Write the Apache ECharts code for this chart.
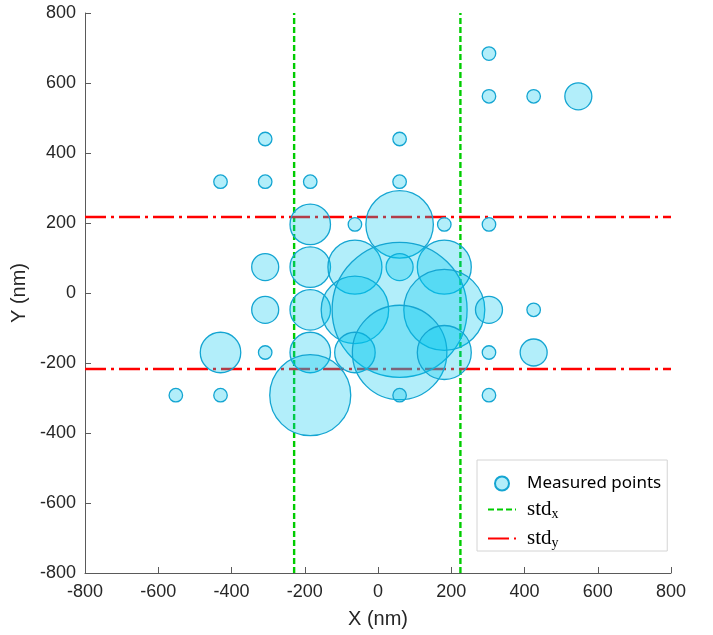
<!DOCTYPE html>
<html>
<head>
<meta charset="utf-8">
<script src="https://cdn.jsdelivr.net/npm/echarts@6/dist/echarts.min.js"></script>
<style>
html,body{margin:0;padding:0;background:#fff;}
#chart{width:713px;height:635px;}
</style>
</head>
<body>
<div id="chart"></div>
<script>
// Measured points: x (nm), y (nm), count (marker radius grows with count)
const pointX = [303, 303, 425, 547, -308, 59, -430, -308, -185, 59,
  -185, -63, 59, 181, 303,
  -308, -185, -63, 59, 181,
  -308, -185, -63, 59, 181, 303, 425,
  -430, -308, -185, -63, 59, 181, 303, 425,
  -552, -430, -185, 59, 303];
const pointY = [684, 562, 562, 562, 440, 440, 318, 318, 318, 318,
  196, 196, 196, 196, 196,
  74, 74, 74, 74, 74,
  -48, -48, -48, -48, -48, -48, -48,
  -170, -170, -170, -170, -170, -170, -170, -170,
  -292, -292, -292, -292, -292];
const pointCount = [1, 1, 1, 2, 1, 1, 1, 1, 1, 1,
  3, 1, 5, 1, 1,
  2, 3, 4, 2, 4,
  2, 3, 5, 10, 6, 2, 1,
  3, 1, 3, 3, 7, 4, 1, 2,
  1, 1, 6, 1, 1];
// standard deviation lines
const stdX = [-229, 225];
const stdY = [217, -217];
const axisMin = -800, axisMax = 800, axisStep = 200;

const seriesNames = ['Measured points', 'std_x', 'std_y'];

const scatterData = pointX.map((x, i) => [x, pointY[i], pointCount[i]]);

const chart = echarts.init(document.getElementById('chart'), null, {renderer: 'canvas'});

const fontSans = 'Liberation Sans';
const fontSerif = 'Liberation Serif';
const textColor = '#262626';
const axisColor = '#5a5a5a';

const series = [];
stdX.forEach(v => {
  series.push({
    name: seriesNames[1], type: 'line', symbol: 'none', z: 1, silent: true,
    data: [[v, axisMin], [v, axisMax]],
    lineStyle: {color: '#00cc00', width: 2.4, type: [6, 3]},
    itemStyle: {color: '#00cc00'}
  });
});
stdY.forEach(v => {
  series.push({
    name: seriesNames[2], type: 'line', symbol: 'none', z: 1, silent: true,
    data: [[axisMin, v], [axisMax, v]],
    lineStyle: {color: '#ff0000', width: 2.4, type: [21, 5, 3, 5]},
    itemStyle: {color: '#ff0000'}
  });
});
series.push({
  name: seriesNames[0], type: 'scatter', z: 3,
  data: scatterData,
  symbol: 'circle',
  symbolSize: d => d[2] * 13.5,
  itemStyle: {color: 'rgba(0,200,240,0.3)', borderColor: 'rgb(20,165,210)', borderWidth: 1.3, opacity: 1}
});

const axisCommon = {
  type: 'value', min: axisMin, max: axisMax, interval: axisStep,
  axisLine: {show: true, onZero: false, lineStyle: {color: axisColor, width: 1}},
  axisTick: {show: true, inside: true, length: 6, lineStyle: {color: axisColor, width: 1}},
  splitLine: {show: false},
  nameLocation: 'middle',
  nameTextStyle: {fontFamily: fontSans, fontSize: 20, color: textColor}
};

const hiddenSymbol = {color: 'rgba(0,0,0,0)', borderWidth: 0, borderColor: 'rgba(0,0,0,0)'};

chart.setOption({
  animation: false,
  backgroundColor: '#ffffff',
  grid: {left: 85, right: 42, top: 13, bottom: 62, containLabel: false},
  xAxis: Object.assign({}, axisCommon, {
    name: 'X (nm)', nameGap: 36,
    axisLabel: {margin: 10, fontFamily: fontSans, fontSize: 18, color: textColor}
  }),
  yAxis: Object.assign({}, axisCommon, {
    name: 'Y (nm)', nameGap: 45, nameRotate: 90,
    axisLabel: {margin: 9, fontFamily: fontSans, fontSize: 18, color: textColor}
  }),
  legend: {
    orient: 'vertical',
    left: 477, top: 460,
    padding: [15, 6, 1, 10],
    itemGap: 7,
    itemWidth: 28, itemHeight: 14,
    borderColor: '#d4d4d4', borderWidth: 1,
    backgroundColor: '#ffffff',
    data: [
      {name: seriesNames[0], icon: 'circle'},
      {name: seriesNames[1], itemStyle: hiddenSymbol},
      {name: seriesNames[2], itemStyle: hiddenSymbol}
    ],
    formatter: name => name === 'std_x' ? '{a|std}{b|x}' : (name === 'std_y' ? '{a|std}{b|y}' : name),
    textStyle: {
      fontFamily: 'Noto Sans', fontSize: 17, color: '#000', padding: [0, 0, 0, 6],
      rich: {
        a: {fontFamily: fontSerif, fontSize: 21, color: '#000'},
        b: {fontFamily: fontSerif, fontSize: 14, color: '#000', padding: [9, 0, 0, 0]}
      }
    }
  },
  series: series
});
</script>
</body>
</html>
